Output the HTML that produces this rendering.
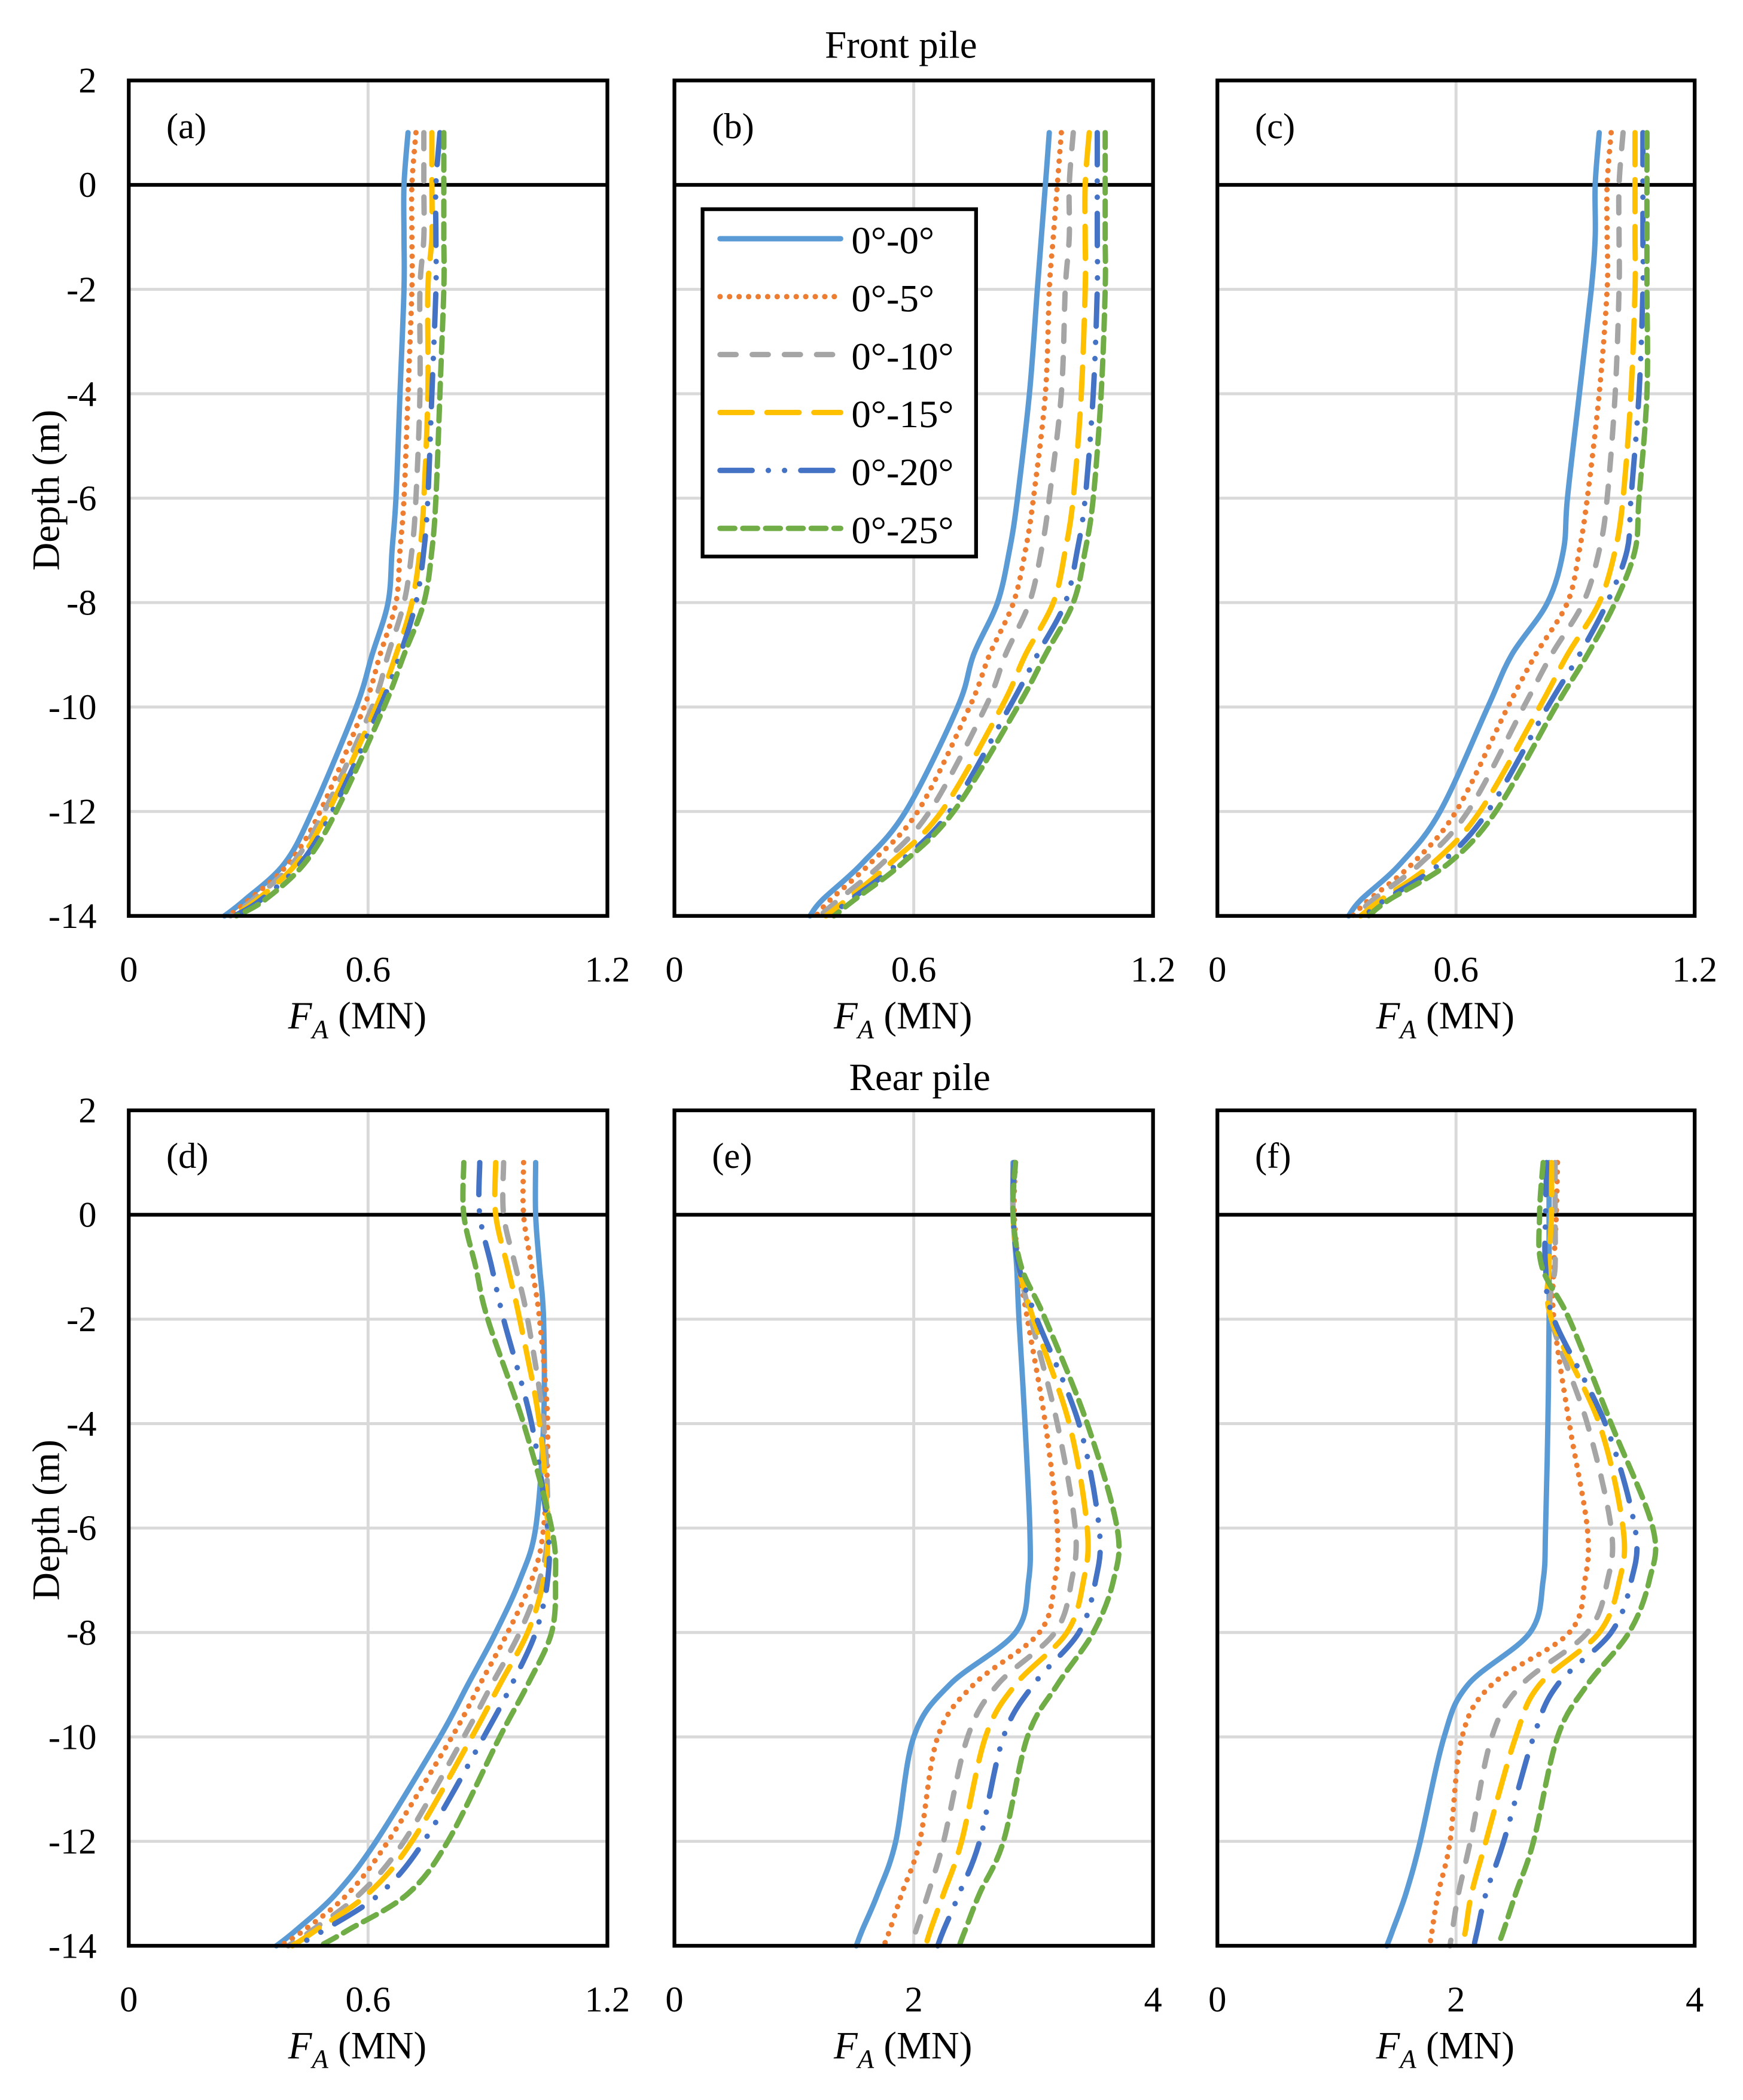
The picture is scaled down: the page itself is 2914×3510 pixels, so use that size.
<!DOCTYPE html>
<html><head><meta charset="utf-8"><style>
html,body{margin:0;padding:0;background:#fff}
svg{display:block}
text{font-family:"Liberation Serif",serif;fill:#000}
</style></head><body>
<svg id="fig" width="2914" height="3510" viewBox="0 0 1300 1566" xmlns="http://www.w3.org/2000/svg"></svg>
<script>
const depths = [1,0,-1,-2,-4,-6,-7,-8,-9,-10,-12,-13,-13.7,-14];
const seriesNames = ["0°-0°","0°-5°","0°-10°","0°-15°","0°-20°","0°-25°"];
const yTicks = [2,0,-2,-4,-6,-8,-10,-12,-14];
const xTicksSmall = [0,0.6,1.2];
const xTicksLarge = [0,2,4];
const panelA = [
[0.70,0.69,0.69,0.69,0.68,0.67,0.66,0.65,0.61,0.57,0.46,0.39,0.29,0.24],
[0.72,0.71,0.71,0.71,0.70,0.69,0.68,0.67,0.63,0.59,0.48,0.40,0.30,0.25],
[0.74,0.74,0.74,0.73,0.73,0.72,0.71,0.69,0.65,0.61,0.49,0.41,0.31,0.255],
[0.76,0.76,0.76,0.75,0.75,0.74,0.73,0.71,0.67,0.62,0.50,0.42,0.32,0.26],
[0.78,0.77,0.77,0.77,0.76,0.75,0.74,0.72,0.68,0.63,0.51,0.43,0.33,0.265],
[0.79,0.79,0.79,0.79,0.78,0.77,0.76,0.74,0.69,0.64,0.52,0.44,0.34,0.27]];
const panelB = [
[0.94,0.93,0.92,0.91,0.89,0.86,0.84,0.81,0.75,0.71,0.58,0.47,0.37,0.34],
[0.97,0.96,0.95,0.94,0.93,0.90,0.88,0.85,0.79,0.74,0.61,0.49,0.39,0.355],
[1.00,0.99,0.99,0.98,0.97,0.94,0.92,0.89,0.83,0.78,0.64,0.52,0.41,0.365],
[1.04,1.03,1.03,1.03,1.02,1.00,0.98,0.95,0.88,0.82,0.67,0.54,0.43,0.38],
[1.06,1.06,1.06,1.06,1.05,1.03,1.01,0.98,0.91,0.84,0.69,0.56,0.44,0.39],
[1.08,1.08,1.08,1.08,1.07,1.05,1.03,1.00,0.93,0.86,0.70,0.57,0.45,0.40]];
const panelC = [
[0.96,0.95,0.95,0.94,0.91,0.88,0.87,0.83,0.74,0.68,0.56,0.46,0.36,0.33],
[0.99,0.98,0.98,0.98,0.96,0.93,0.91,0.88,0.80,0.73,0.60,0.49,0.38,0.34],
[1.02,1.01,1.01,1.01,1.00,0.98,0.96,0.92,0.84,0.77,0.63,0.51,0.39,0.35],
[1.05,1.05,1.05,1.05,1.04,1.02,1.00,0.96,0.88,0.81,0.66,0.54,0.41,0.36],
[1.07,1.07,1.07,1.07,1.06,1.04,1.03,0.98,0.91,0.83,0.68,0.56,0.42,0.37],
[1.08,1.08,1.08,1.08,1.08,1.06,1.05,1.00,0.93,0.85,0.70,0.58,0.43,0.38]];
const panelD = [
[1.02,1.02,1.03,1.04,1.04,1.02,0.98,0.92,0.85,0.78,0.62,0.52,0.42,0.37],
[0.99,0.99,1.01,1.03,1.05,1.04,1.01,0.95,0.88,0.81,0.65,0.55,0.44,0.38],
[0.94,0.94,0.97,1.00,1.04,1.05,1.03,0.98,0.91,0.84,0.69,0.58,0.46,0.40],
[0.92,0.92,0.95,0.98,1.03,1.05,1.04,1.00,0.93,0.86,0.71,0.60,0.47,0.41],
[0.88,0.88,0.91,0.94,1.01,1.05,1.05,1.02,0.96,0.89,0.74,0.63,0.49,0.42],
[0.84,0.84,0.87,0.90,0.99,1.06,1.07,1.06,1.00,0.93,0.80,0.70,0.55,0.48]];
const panelE = [
[2.83,2.83,2.86,2.88,2.93,2.97,2.96,2.85,2.30,2.00,1.85,1.70,1.57,1.52],
[2.85,2.84,2.88,2.95,3.10,3.20,3.18,3.05,2.50,2.20,2.05,1.90,1.80,1.75],
[2.84,2.83,2.88,2.98,3.20,3.35,3.32,3.18,2.70,2.45,2.25,2.12,2.02,1.98],
[2.84,2.83,2.88,3.00,3.30,3.45,3.42,3.28,2.85,2.60,2.40,2.25,2.14,2.10],
[2.84,2.83,2.88,3.03,3.38,3.55,3.52,3.38,3.00,2.75,2.55,2.38,2.25,2.20],
[2.85,2.83,2.90,3.10,3.45,3.70,3.67,3.50,3.20,2.95,2.75,2.55,2.43,2.38]];
const panelF = [
[2.78,2.78,2.78,2.78,2.77,2.75,2.73,2.62,2.10,1.90,1.70,1.58,1.47,1.42],
[2.85,2.84,2.82,2.82,2.95,3.10,3.08,2.95,2.30,2.05,1.95,1.85,1.80,1.78],
[2.83,2.83,2.83,2.80,3.10,3.30,3.27,3.10,2.55,2.30,2.12,2.02,1.97,1.95],
[2.80,2.80,2.78,2.80,3.20,3.40,3.37,3.20,2.70,2.50,2.25,2.13,2.08,2.05],
[2.76,2.75,2.75,2.82,3.25,3.50,3.47,3.30,2.85,2.65,2.40,2.25,2.18,2.15],
[2.73,2.70,2.72,2.95,3.30,3.65,3.62,3.45,3.10,2.85,2.65,2.50,2.40,2.35]];

const NS="http://www.w3.org/2000/svg";
const svg=document.getElementById('fig');
function mk(tag,attrs,parent){const e=document.createElementNS(NS,tag);for(const k in attrs)e.setAttribute(k,attrs[k]);(parent||svg).appendChild(e);return e;}
function smooth(pts){let d='M'+pts[0][0].toFixed(1)+','+pts[0][1].toFixed(1);
 for(let i=0;i<pts.length-1;i++){const p0=pts[Math.max(0,i-1)],p1=pts[i],p2=pts[i+1],p3=pts[Math.min(pts.length-1,i+2)];
  const c1=[p1[0]+(p2[0]-p0[0])/6,p1[1]+(p2[1]-p0[1])/6],c2=[p2[0]-(p3[0]-p1[0])/6,p2[1]-(p3[1]-p1[1])/6];
  d+=' C'+c1.map(v=>v.toFixed(1)).join(',')+' '+c2.map(v=>v.toFixed(1)).join(',')+' '+p2.map(v=>v.toFixed(1)).join(',');}
 return d;}
const colors=["#5B9BD5","#ED7D31","#A5A5A5","#FFC000","#4472C4","#70AD47"];
const dashes=["none","0.1,7","12,12","24,11","24,12,0.1,12,0.1,12","11,6"];
const panels=[
 {id:"a",data:panelA,x0:96,x1:453,y0:60,y1:683,xmax:1.2,ticks:xTicksSmall,yl:true},
 {id:"b",data:panelB,x0:503,x1:860,y0:60,y1:683,xmax:1.2,ticks:xTicksSmall,yl:false},
 {id:"c",data:panelC,x0:908,x1:1264,y0:60,y1:683,xmax:1.2,ticks:xTicksSmall,yl:false},
 {id:"d",data:panelD,x0:96,x1:453,y0:828,y1:1451,xmax:1.2,ticks:xTicksSmall,yl:true},
 {id:"e",data:panelE,x0:503,x1:860,y0:828,y1:1451,xmax:4,ticks:xTicksLarge,yl:false},
 {id:"f",data:panelF,x0:908,x1:1264,y0:828,y1:1451,xmax:4,ticks:xTicksLarge,yl:false}];
panels.forEach(p=>{
 const g=mk('g',{});
 
 
 const xs=v=>p.x0+v/p.xmax*(p.x1-p.x0);
 const ys=d=>p.y0+(2-d)/16*(p.y1-p.y0);
 yTicks.forEach(t=>{
  const l=mk('line',{x1:p.x0,x2:p.x1,y1:ys(t),y2:ys(t),stroke:'#d9d9d9','stroke-width':2.2},g);
  
  
  if(p.yl){const tx=mk('text',{x:p.x0-24,y:ys(t)+9,'text-anchor':'end','font-size':27},g);tx.textContent=t;
   
   }
 });
 p.ticks.forEach(t=>{
  const l=mk('line',{x1:xs(t),x2:xs(t),y1:p.y0,y2:p.y1,stroke:'#d9d9d9','stroke-width':2.2},g);
  
  
  const tx=mk('text',{x:xs(t),y:p.y1+49,'text-anchor':'middle','font-size':27},g);tx.textContent=t;
  
  
 });
 const z=mk('line',{x1:p.x0,x2:p.x1,y1:ys(0),y2:ys(0),stroke:'#000','stroke-width':2.8},g);
 
 
 p.data.forEach((s,i)=>{
  const pts=s.map((v,j)=>[xs(v),ys(depths[j])]);
  const pl=mk('path',{d:smooth(pts),fill:'none',stroke:colors[i],'stroke-width':4,'stroke-linecap':'round','stroke-linejoin':'round'},g);
  if(dashes[i]!=='none')pl.setAttribute('stroke-dasharray',dashes[i]);
  
  
 });
 const b=mk('rect',{x:p.x0,y:p.y0,width:p.x1-p.x0,height:p.y1-p.y0,fill:'none',stroke:'#000','stroke-width':2.8},g);
 
 
 const lb=mk('text',{x:p.x0+28,y:p.y0+43,'font-size':27},g);lb.textContent='('+p.id+')';
 
 
 const at=mk('text',{x:(p.x0+p.x1)/2-8,y:p.y1+84,'text-anchor':'middle','font-size':29},g);
 at.innerHTML='<tspan font-style="italic">F</tspan><tspan font-style="italic" font-size="20" dy="7">A</tspan><tspan dy="-7"> (MN)</tspan>';
 
 
 if(p.yl){const yt=mk('text',{x:0,y:0,'text-anchor':'middle','font-size':29,transform:'translate(44,'+((p.y0+p.y1)/2-6)+') rotate(-90)'},g);yt.textContent='Depth (m)';
  
  }
});
const t1=mk('text',{x:672,y:43,'text-anchor':'middle','font-size':29});t1.textContent='Front pile';


const t2=mk('text',{x:686,y:813,'text-anchor':'middle','font-size':29});t2.textContent='Rear pile';


const lg=mk('g',{});


mk('rect',{x:524,y:156,width:204,height:259,fill:'#fff',stroke:'#000','stroke-width':2.8},lg);
seriesNames.forEach((n,i)=>{
 const y=178+i*43.2;
 const l=mk('line',{x1:537,x2:627,y1:y,y2:y,stroke:colors[i],'stroke-width':4,'stroke-linecap':'round'},lg);
 if(dashes[i]!=='none')l.setAttribute('stroke-dasharray',dashes[i]);
 
 
 const tx=mk('text',{x:635,y:y+11,'font-size':29},lg);tx.textContent=n;
 
 
});
</script>
</body></html>
